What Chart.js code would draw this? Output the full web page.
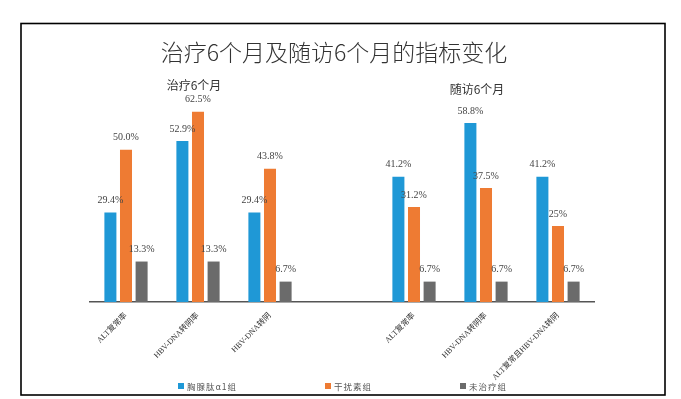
<!DOCTYPE html>
<html><head><meta charset="utf-8">
<script src="https://cdn.jsdelivr.net/npm/chart.js@4/dist/chart.umd.min.js"></script>
<style>html,body{margin:0;padding:0;background:#fff;overflow:hidden}#wrap{width:681px;height:399px;position:relative}</style>
</head><body><div id="wrap"><canvas id="c" width="681" height="399"></canvas></div>
<script>
const chartTitle = '治疗6个月及随访6个月的指标变化';
const groupTitles = ['治疗6个月', '随访6个月'];
const categories = ['ALT复常率', 'HBV-DNA转阴率', 'HBV-DNA转阴', '', 'ALT复常率', 'HBV-DNA转阴率', 'ALT复常且HBV-DNA转阴'];
const seriesNames = ['胸腺肽α1组', '干扰素组', '未治疗组'];
const thymosin = [29.4, 52.9, 29.4, null, 41.2, 58.8, 41.2];
const interferon = [50.0, 62.5, 43.8, null, 31.2, 37.5, 25];
const untreated = [13.3, 13.3, 6.7, null, 6.7, 6.7, 6.7];
const thymosinText = ['29.4%', '52.9%', '29.4%', '', '41.2%', '58.8%', '41.2%'];
const interferonText = ['50.0%', '62.5%', '43.8%', '', '31.2%', '37.5%', '25%'];
const untreatedText = ['13.3%', '13.3%', '6.7%', '', '6.7%', '6.7%', '6.7%'];

const colors = ['#1F98D6', '#EE7B33', '#6B6B6B'];
const valueTexts = [thymosinText, interferonText, untreatedText];

const decor = {
  id: 'decor',
  beforeDraw(chart) {
    const ctx = chart.ctx;
    ctx.save();
    ctx.fillStyle = '#fff';
    ctx.fillRect(0, 0, chart.width, chart.height);
    ctx.strokeStyle = '#000';
    ctx.lineWidth = 1.6;
    ctx.strokeRect(21, 23.5, 644, 371.5);
    ctx.restore();
  },
  afterDatasetsDraw(chart) {
    const ctx = chart.ctx;
    ctx.save();
    ctx.font = '10px "Liberation Serif", "Noto Sans CJK SC"';
    ctx.fillStyle = '#444';
    ctx.textAlign = 'center';
    ctx.textBaseline = 'middle';
    chart.data.datasets.forEach((ds, i) => {
      const meta = chart.getDatasetMeta(i);
      meta.data.forEach((el, j) => {
        const t = valueTexts[i][j];
        if (!t || ds.data[j] == null) return;
        ctx.fillText(t, el.x, el.y - 12);
      });
    });
    ctx.restore();
  },
  afterDraw(chart) {
    const ctx = chart.ctx;
    const xs = chart.scales.x;
    ctx.save();
    ctx.fillStyle = '#333';
    ctx.textAlign = 'center';
    ctx.textBaseline = 'middle';
    ctx.font = '300 23px "Noto Sans CJK SC"';
    ctx.fillText(chartTitle, 334, 52);
    ctx.font = '12px "Noto Sans CJK SC"';
    ctx.fillText(groupTitles[0], xs.getPixelForValue(1) - 4, 85);
    ctx.fillText(groupTitles[1], xs.getPixelForValue(5) - 9, 89);
    // legend
    const lx = [178, 325, 460];
    ctx.font = '8.5px "Noto Sans CJK SC"';
    ctx.letterSpacing = '1px';
    ctx.textAlign = 'left';
    chart.data.datasets.forEach((ds, i) => {
      ctx.fillStyle = ds.backgroundColor;
      ctx.fillRect(lx[i], 383, 6, 6);
      ctx.fillStyle = '#555';
      ctx.fillText(ds.label, lx[i] + 9, 386.5);
    });
    ctx.restore();
  }
};

new Chart(document.getElementById('c'), {
  type: 'bar',
  data: {
    labels: categories,
    datasets: [
      { label: seriesNames[0], data: thymosin, backgroundColor: colors[0] },
      { label: seriesNames[1], data: interferon, backgroundColor: colors[1] },
      { label: seriesNames[2], data: untreated, backgroundColor: colors[2] }
    ]
  },
  options: {
    responsive: false,
    animation: false,
    devicePixelRatio: 1,
    categoryPercentage: 0.65,
    barPercentage: 0.77,
    layout: { padding: { left: 90, right: 87, top: 89, bottom: 0 } },
    plugins: { legend: { display: false }, title: { display: false }, tooltip: { enabled: false } },
    scales: {
      x: {
        grid: { display: false },
        border: { display: true, color: '#555', width: 1.5 },
        ticks: {
          minRotation: 45, maxRotation: 45, autoSkip: false, padding: 1,
          color: '#333', font: { family: '"Liberation Serif", "Noto Sans CJK SC"', size: 8 }
        },
        afterFit(s) { s.height = 97; }
      },
      y: { display: false, min: 0, max: 70 }
    }
  },
  plugins: [decor]
});
</script>
</body></html>
